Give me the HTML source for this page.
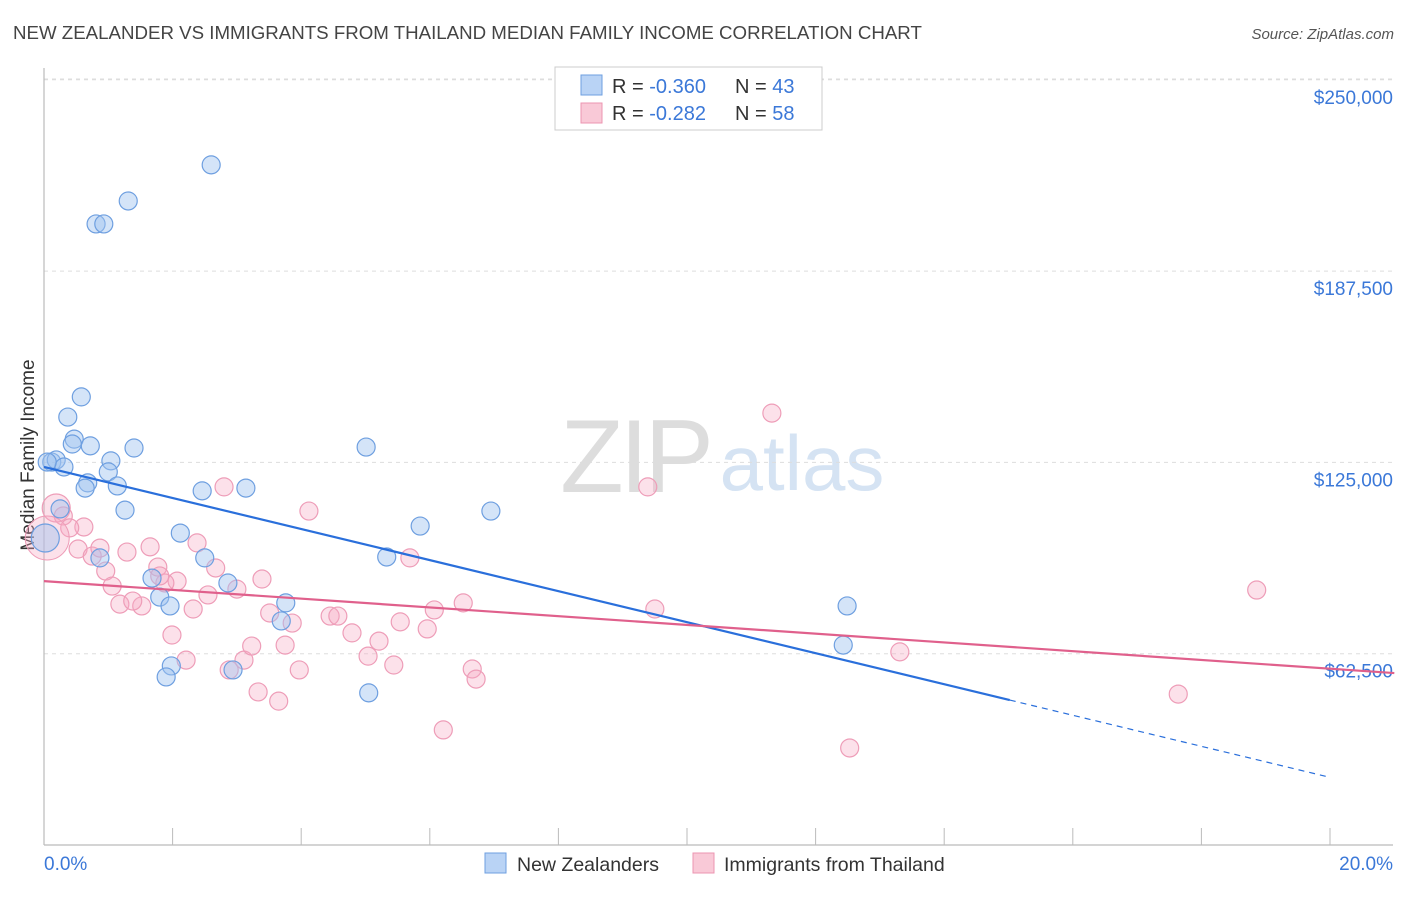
<!DOCTYPE html>
<html><head><meta charset="utf-8"><style>
body{margin:0;background:#fff;font-family:"Liberation Sans",sans-serif;}
svg text{font-family:"Liberation Sans",sans-serif;}
</style></head><body>
<svg id="chart" width="1406" height="892" xmlns="http://www.w3.org/2000/svg">
<text x="13" y="39" font-size="18.7" fill="#444">NEW ZEALANDER VS IMMIGRANTS FROM THAILAND MEDIAN FAMILY INCOME CORRELATION CHART</text>
<text x="1394" y="39" font-size="15" fill="#555" text-anchor="end" font-style="italic">Source: ZipAtlas.com</text>
<text transform="translate(34,455) rotate(-90)" font-size="19" fill="#333" text-anchor="middle">Median Family Income</text>
<g>
<text x="635" y="492" font-size="104" fill="#ddd" text-anchor="middle" font-family="Liberation Serif" letter-spacing="-4">ZIP</text>
<text x="802" y="490" font-size="78" fill="#d5e3f3" text-anchor="middle">atlas</text>
</g>
<g id="grid"></g><g id="axes"></g><g id="pinkpts"></g><g id="bluepts"></g><g id="lines"></g>
<g>
<rect x="555" y="67" width="267" height="63" fill="#fff" stroke="#ccc"/>
<rect x="581" y="75" width="21" height="20" fill="#b9d3f5" stroke="#6e9fe0"/>
<rect x="581" y="103" width="21" height="20" fill="#f9c9d7" stroke="#ec95b1"/>
<text x="612" y="93" font-size="20" fill="#333">R = <tspan fill="#3b78d8">-0.360</tspan><tspan x="735">N = </tspan><tspan fill="#3b78d8">43</tspan></text>
<text x="612" y="120" font-size="20" fill="#333">R =  <tspan fill="#3b78d8">-0.282</tspan><tspan x="735">N = </tspan><tspan fill="#3b78d8">58</tspan></text>
</g>
<g>
<rect x="485" y="853" width="21" height="20" fill="#b9d3f5" stroke="#6e9fe0"/>
<text x="517" y="871" font-size="19.5" fill="#333">New Zealanders</text>
<rect x="693" y="853" width="21" height="20" fill="#f9c9d7" stroke="#ec95b1"/>
<text x="724" y="871" font-size="19.5" fill="#333">Immigrants from Thailand</text>
</g>
</svg>
<script>
const yTicks=[62500,125000,187500,250000];
const yTickLabels=["$62,500","$125,000","$187,500","$250,000"];
const xTickVals=[0,2,4,6,8,10,12,14,16,18,20];
const blueX=[2.60,1.31,0.81,0.93,0.58,0.37,0.47,0.44,0.72,1.40,5.01,0.12,0.19,0.31,1.04,1.00,0.68,0.64,1.14,2.46,3.14,1.26,0.25,5.85,6.95,2.12,0.87,2.50,5.33,1.68,2.86,1.80,1.96,3.76,12.49,3.69,12.43,1.98,1.90,2.94,5.05,0.02,0.05];
const blueY=[222.2,210.4,202.9,202.9,146.4,139.8,132.6,131.0,130.4,129.7,130.0,125.1,125.8,123.5,125.5,121.9,118.3,116.6,117.3,115.7,116.6,109.4,109.8,104.2,109.1,101.9,93.8,93.8,94.1,87.2,85.6,81.0,78.1,79.1,78.1,73.2,65.3,58.5,54.9,57.2,49.7,100.3,125.1];
const pinkX=[0.19,0.30,0.62,0.40,0.53,0.75,0.87,1.29,1.65,0.96,1.77,2.07,1.88,2.67,1.06,1.18,1.52,1.38,2.32,2.55,3.00,3.39,2.80,2.38,4.12,5.69,1.99,2.21,3.11,2.88,3.23,3.51,3.86,3.75,3.97,3.33,3.65,4.45,4.57,4.79,5.04,5.21,5.44,5.54,5.96,6.07,6.52,6.66,6.72,6.21,9.39,9.50,11.32,13.31,12.53,18.86,17.64,1.80];
const pinkY=[110.1,107.5,103.9,103.6,96.7,94.4,97.0,95.7,97.4,89.5,90.8,86.2,85.6,90.5,84.6,78.7,78.1,79.7,77.1,81.7,83.6,86.9,117.0,98.7,109.1,93.8,68.6,60.4,60.4,57.2,65.0,75.8,72.5,65.3,57.2,50.0,47.0,74.8,74.8,69.3,61.7,66.6,58.8,72.9,70.6,76.8,79.1,57.5,54.2,37.6,117.0,77.1,141.1,63.1,31.7,83.3,49.3,87.9];
const blueTrend=[123.5,-5.07];
const pinkTrend=[86.2,-1.43];
const NS="http://www.w3.org/2000/svg";
const X=v=>44+v*64.3;
const Y=v=>845-v*1000/326.7;
function mk(t,a,p){const e=document.createElementNS(NS,t);for(const k in a)e.setAttribute(k,a[k]);p.appendChild(e);return e;}
const grid=document.getElementById('grid'),axes=document.getElementById('axes');
mk('line',{x1:44,x2:1393,y1:79,y2:79,stroke:'#ddd','stroke-dasharray':'4,4'},grid);
yTicks.forEach((t,i)=>{
 const l=mk('line',{x1:44,x2:1393,y1:Y(t/1000),y2:Y(t/1000),stroke:'#ddd','stroke-dasharray':'4,4'},grid);
 
 
 const tx=mk('text',{x:1393,y:Y(t/1000)+24,'font-size':19,fill:'#3b78d8','text-anchor':'end'},grid);
 tx.textContent=yTickLabels[i];
 
 
});
mk('line',{x1:44,x2:44,y1:68,y2:845,stroke:'#bbb','stroke-width':1.2},axes);
mk('line',{x1:44,x2:1393,y1:845,y2:845,stroke:'#bbb','stroke-width':1.2},axes);
xTickVals.forEach(v=>{const t=mk('line',{x1:X(v),x2:X(v),y1:828,y2:845,stroke:'#bbb'},axes);
 
 });
let t0=mk('text',{x:44,y:870,'font-size':19,fill:'#3b78d8'},axes);t0.textContent='0.0%';


let t1=mk('text',{x:1393,y:870,'font-size':19,fill:'#3b78d8','text-anchor':'end'},axes);t1.textContent='20.0%';


const pp=document.getElementById('pinkpts');
pinkX.forEach((x,i)=>{const r=i===0?14:9;
 const c=mk('circle',{cx:X(x),cy:Y(pinkY[i]),r:r,fill:'rgba(246,170,195,0.35)',stroke:'#ee9db8','stroke-width':1.2},pp);
 
 });
const bigPink=mk('circle',{cx:X(0.05),cy:Y(100.3),r:22,fill:'rgba(246,170,195,0.35)',stroke:'#ee9db8'},pp);


const bp=document.getElementById('bluepts');
blueX.forEach((x,i)=>{const r=i===41?14:9;
 const c=mk('circle',{cx:X(x),cy:Y(blueY[i]),r:r,fill:'rgba(160,196,240,0.45)',stroke:'#6e9fe0','stroke-width':1.2},bp);
 
 });
const ln=document.getElementById('lines');
const bEnd=15.02;
const b1=mk('line',{x1:X(0),y1:Y(blueTrend[0]),x2:X(bEnd),y2:Y(blueTrend[0]+blueTrend[1]*bEnd),stroke:'#2a6fdb','stroke-width':2.2},ln);


const b2=mk('line',{x1:X(bEnd),y1:Y(blueTrend[0]+blueTrend[1]*bEnd),x2:X(20),y2:Y(blueTrend[0]+blueTrend[1]*20),stroke:'#2a6fdb','stroke-width':1.2,'stroke-dasharray':'6,5'},ln);


const p1=mk('line',{x1:X(0),y1:Y(pinkTrend[0]),x2:X(21),y2:Y(pinkTrend[0]+pinkTrend[1]*21),stroke:'#e0608c','stroke-width':2.2},ln);


</script>
</body></html>
